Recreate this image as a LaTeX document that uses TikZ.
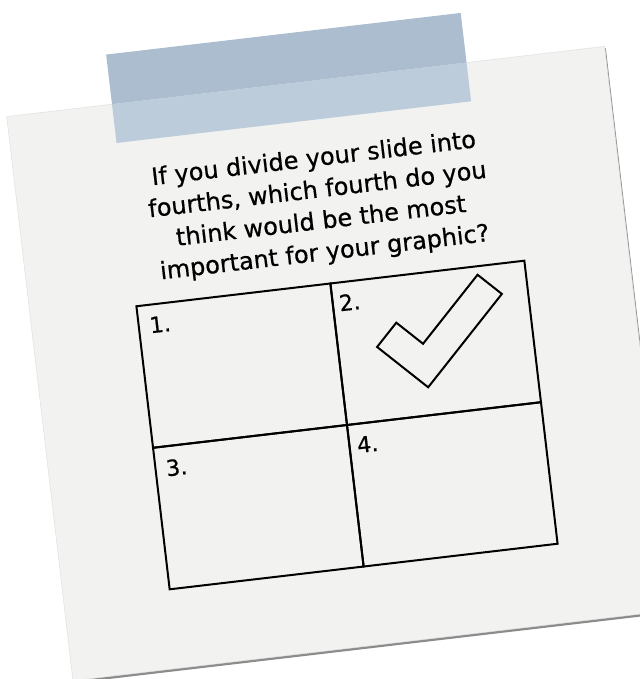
\documentclass[tikz,border=0pt]{standalone}
\usepackage{fontspec}
\setmainfont{DejaVu Sans}
\newfontfamily\notefont{DejaVu Sans}[FakeBold=0.6]
\usetikzlibrary{positioning}
\definecolor{paperC}{HTML}{F2F2F0}
\definecolor{tapeUp}{HTML}{ABBDCF}
\definecolor{tapeLo}{HTML}{BDCCDA}
\tikzset{
  paper/.style ={fill=paperC, draw=black!12, line width=0.5pt},
  curl/.style  ={fill=black!45},
  tapeA/.style ={fill=tapeUp},
  tapeB/.style ={fill=tapeLo},
  cell/.style  ={draw, minimum width=195.3pt, minimum height=142.5pt,
                 inner sep=0pt, line width=2pt},
  num/.style   ={font=\notefont\fontsize{22}{26}\selectfont, inner sep=0pt,
                 anchor=north west},
  qtxt/.style  ={font=\notefont\fontsize{24}{31.5}\selectfont, inner sep=0pt,
                 align=center, anchor=north},
  chk/.style   ={draw, line width=2pt, line join=miter},
}

\begin{document}
\begin{tikzpicture}[x=1pt, y=-1pt]
  \useasboundingbox (0,0) rectangle (639,679);
  \begin{scope}[shift={(347,425)}, rotate=6.7, transform shape]
    % sheet of paper, curl shadow underneath
    \fill[curl] (-301,-344) rectangle (301,224.5);
    \path[paper] (-302,-346) rectangle (300,222);
    % tape strip: part above the sheet is darker
    \path[tapeA] (-196,-396) rectangle (161,-346);
    \path[tapeB] (-196,-346) rectangle (161,-307);
    % question
    \node[qtxt] (q) at (-2,-279.2) {If you divide your slide into\\
      fourths, which fourth do you\\ think would be the most\\
      important for your graphic?};
    % the four fourths
    \node[cell] (c1) at (-97.65,-71.25) {};
    \node[cell] (c2) at (97.65,-71.25) {};
    \node[cell] (c3) at (-97.65,71.25) {};
    \node[cell] (c4) at (97.65,71.25) {};
    \node[num] (n1) at (-184.6,-130.2) {1.};
    \node[num] (n2) at (6.3,-130.2) {2.};
    \node[num] (n3) at (-184.9,13.5) {3.};
    \node[num] (n4) at (7.5,13) {4.};
    % tick in fourth 2
    \draw[chk] (85,-28) -- (169.1,-112.1) -- (147.2,-134) -- (85,-71.8)
      -- (60.9,-95.9) -- (39,-74) -- cycle;
  \end{scope}
\end{tikzpicture}
\end{document}
